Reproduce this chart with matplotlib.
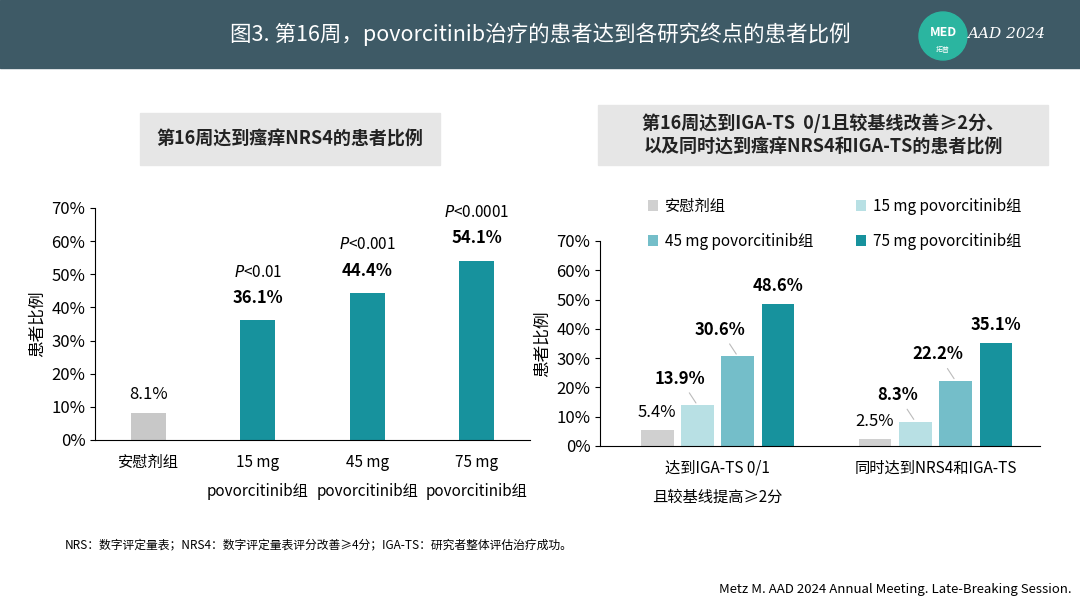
import matplotlib
matplotlib.use("Agg")
import matplotlib.pyplot as plt
from matplotlib.patches import Rectangle, Ellipse

plt.rcParams["font.family"] = ["Noto Sans CJK SC", "DejaVu Sans"]

# left chart data
left_cats = ["安慰剂组", "15 mg\npovorcitinib组", "45 mg\npovorcitinib组", "75 mg\npovorcitinib组"]
left_vals = [8.1, 36.1, 44.4, 54.1]
left_p = [None, "<0.01", "<0.001", "<0.0001"]

# right chart data
right_groups = ["达到IGA-TS 0/1\n且较基线提高≥2分", "同时达到NRS4和IGA-TS"]
right_series = ["安慰剂组", "15 mg povorcitinib组", "45 mg povorcitinib组", "75 mg povorcitinib组"]
right_vals = [[5.4, 2.5], [13.9, 8.3], [30.6, 22.2], [48.6, 35.1]]
right_colors = ["#d0d0d0", "#b8e0e4", "#74bec9", "#17929d"]
yticks = [0, 10, 20, 30, 40, 50, 60, 70]

TEAL = "#17929d"
W, H = 1080, 608

fig = plt.figure(figsize=(10.8, 6.08), dpi=100)
fig.patch.set_facecolor("white")


def box(x0, y0, x1, y1, color, **kw):
    fig.patches.append(Rectangle((x0 / W, 1 - y1 / H), (x1 - x0) / W, (y1 - y0) / H,
                                 transform=fig.transFigure, color=color, zorder=0, **kw))


# header band
box(0, 0, W, 68, "#3e5a66")
fig.text(540 / W, 1 - 34 / H, "图3. 第16周，povorcitinib治疗的患者达到各研究终点的患者比例",
         ha="center", va="center", color="white", fontsize=15.5)
fig.patches.append(Ellipse((943 / W, 1 - 36 / H), 48 / W, 48 / H, transform=fig.transFigure,
                           color="#2bb5a0", zorder=1))
fig.text(943 / W, 1 - 32 / H, "MED", ha="center", va="center", color="white",
         fontsize=9, fontweight="bold")
fig.text(943 / W, 1 - 50 / H, "拓普", ha="center", va="center", color="white", fontsize=5)
fig.text(1006 / W, 1 - 34 / H, "AAD 2024", ha="center", va="center", color="white",
         fontsize=11, style="italic", family=["DejaVu Serif"])

# title boxes
box(140, 113, 440, 165, "#e6e6e6")
fig.text(290 / W, 1 - 139 / H, "第16周达到瘙痒NRS4的患者比例", ha="center", va="center",
         fontsize=13, fontweight="bold", color="#222222")
box(598, 105, 1048, 165, "#e6e6e6")
fig.text(823 / W, 1 - 135 / H, "第16周达到IGA-TS  0/1且较基线改善≥2分、\n以及同时达到瘙痒NRS4和IGA-TS的患者比例",
         ha="center", va="center", fontsize=13, fontweight="bold", color="#222222", linespacing=1.3)

# left axes
axl = fig.add_axes([95 / W, 1 - 440 / H, 435 / W, 232 / H])
xs = list(range(len(left_vals)))
axl.bar(xs, left_vals, width=0.32, color=["#c8c8c8"] + [TEAL] * 3)
axl.set_xlim(-0.49, 3.49)
axl.set_ylim(0, 70)
axl.set_yticks(yticks)
axl.set_yticklabels([f"{t}%" for t in yticks], fontsize=12)
axl.set_xticks(xs)
axl.set_xticklabels(left_cats, fontsize=11, linespacing=1.9)
axl.tick_params(axis="x", length=0, pad=10)
axl.set_ylabel("患者比例", fontsize=12)
for s in ["top", "right"]:
    axl.spines[s].set_visible(False)
for x, v, p in zip(xs, left_vals, left_p):
    if p is None:
        axl.text(x, v + 3, f"{v}%", ha="center", va="bottom", fontsize=12)
    else:
        axl.text(x, v + 4, f"{v}%", ha="center", va="bottom", fontsize=12, fontweight="bold")
        axl.text(x, v + 12, "$P$" + p, ha="center", va="bottom", fontsize=11)

# right axes
axr = fig.add_axes([600 / W, 1 - 446 / H, 440 / W, 205 / H])
step = 0.185
handles = []
for i, (name, vals, c) in enumerate(zip(right_series, right_vals, right_colors)):
    pos = [g + (i - 1.5) * step for g in range(len(right_groups))]
    handles.append(axr.bar(pos, vals, width=0.15, color=c, label=name))
    for x, v in zip(pos, vals):
        bold = i > 0
        if i in (1, 2):
            axr.annotate(f"{v}%", xy=(x, v), xytext=(x - 0.08, v + 6), ha="center", va="bottom",
                         fontsize=12, fontweight="bold",
                         arrowprops=dict(arrowstyle="-", color="#bbbbbb", lw=0.8))
        else:
            axr.text(x, v + 3, f"{v}%", ha="center", va="bottom", fontsize=12,
                     fontweight="bold" if bold else "normal")
axr.set_xlim(-0.54, 1.48)
axr.set_ylim(0, 70)
axr.set_yticks(yticks)
axr.set_yticklabels([f"{t}%" for t in yticks], fontsize=12)
axr.set_xticks([0, 1])
axr.set_xticklabels(right_groups, fontsize=11, linespacing=1.9, va="top")
axr.tick_params(axis="x", length=0, pad=10)
axr.set_ylabel("患者比例", fontsize=12)
for s in ["top", "right"]:
    axr.spines[s].set_visible(False)
order = [0, 2, 1, 3]
fig.legend([handles[k] for k in order], [right_series[k] for k in order],
           loc="upper left", bbox_to_anchor=(634 / W, 1 - 184 / H), ncol=2, frameon=False,
           fontsize=11, handlelength=0.7, handleheight=0.7, columnspacing=2.8,
           labelspacing=1.2, handletextpad=0.4)

fig.text(65 / W, 1 - 545 / H, "NRS：数字评定量表；NRS4：数字评定量表评分改善≥4分；IGA-TS：研究者整体评估治疗成功。",
         ha="left", va="center", fontsize=8.5)
fig.text(1072 / W, 1 - 590 / H, "Metz M. AAD 2024 Annual Meeting. Late-Breaking Session.",
         ha="right", va="center", fontsize=9.5)

fig.savefig("out.png", dpi=100)
